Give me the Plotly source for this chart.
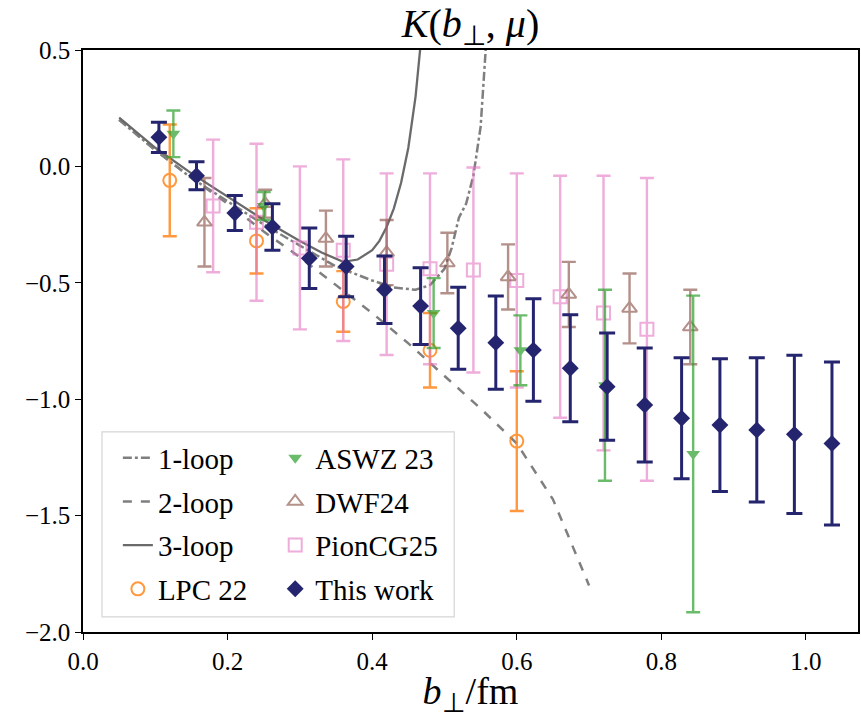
import plotly.graph_objects as go

# ---------------- data ----------------
loop1_x = [0.05, 0.08, 0.10, 0.15, 0.20, 0.25, 0.30, 0.35, 0.40, 0.43, 0.46, 0.48, 0.50, 0.51, 0.52, 0.53, 0.54, 0.55, 0.557, 0.56]
loop1_y = [0.20, 0.12, 0.07, -0.05, -0.15, -0.25, -0.34, -0.43, -0.49, -0.52, -0.53, -0.51, -0.44, -0.35, -0.22, -0.16, -0.04, 0.17, 0.50, 0.65]

loop2_x = [0.05, 0.08, 0.10, 0.15, 0.20, 0.25, 0.30, 0.35, 0.40, 0.45, 0.50, 0.55, 0.60, 0.65, 0.70]
loop2_y = [0.20, 0.12, 0.07, -0.05, -0.16, -0.28, -0.39, -0.51, -0.63, -0.76, -0.90, -1.04, -1.19, -1.43, -1.80]

loop3_x = [0.05, 0.08, 0.10, 0.15, 0.20, 0.25, 0.30, 0.33, 0.36, 0.38, 0.40, 0.41, 0.42, 0.43, 0.44, 0.45, 0.46, 0.465, 0.47]
loop3_y = [0.21, 0.13, 0.08, -0.03, -0.13, -0.23, -0.32, -0.37, -0.41, -0.40, -0.36, -0.32, -0.26, -0.18, -0.07, 0.08, 0.30, 0.45, 0.62]

lpc_x = [0.12, 0.24, 0.36, 0.48, 0.60]
lpc_y = [-0.06, -0.32, -0.58, -0.79, -1.18]
lpc_err = [0.24, 0.14, 0.13, 0.16, 0.30]

aswz_x = [0.125, 0.25, 0.485, 0.605, 0.722, 0.844]
aswz_y = [0.14, -0.17, -0.63, -0.79, -0.94, -1.235]
aswz_err = [0.10, 0.06, 0.15, 0.15, 0.41, 0.68]

dwf_x = [0.168, 0.252, 0.336, 0.42, 0.504, 0.588, 0.672, 0.756, 0.84]
dwf_y = [-0.24, -0.16, -0.31, -0.37, -0.415, -0.475, -0.55, -0.61, -0.69]
dwf_err = [0.19, 0.06, 0.12, 0.14, 0.13, 0.14, 0.14, 0.15, 0.16]

pion_x = [0.18, 0.24, 0.30, 0.36, 0.42, 0.48, 0.54, 0.60, 0.66, 0.72, 0.78]
pion_y = [-0.17, -0.24, -0.35, -0.36, -0.42, -0.44, -0.445, -0.49, -0.56, -0.63, -0.70]
pion_err = [0.285, 0.337, 0.35, 0.39, 0.39, 0.41, 0.44, 0.46, 0.52, 0.59, 0.65]

this_x = [0.105, 0.157, 0.210, 0.262, 0.313, 0.364, 0.417, 0.467, 0.519, 0.571, 0.623, 0.674, 0.725, 0.777, 0.828, 0.881, 0.932, 0.984, 1.036]
this_y = [0.125, -0.04, -0.20, -0.26, -0.395, -0.43, -0.53, -0.60, -0.695, -0.757, -0.789, -0.867, -0.946, -1.025, -1.082, -1.111, -1.132, -1.151, -1.19]
this_err = [0.065, 0.06, 0.075, 0.10, 0.13, 0.13, 0.145, 0.165, 0.176, 0.20, 0.22, 0.23, 0.23, 0.245, 0.26, 0.285, 0.31, 0.34, 0.35]

x_ticks = [0.0, 0.2, 0.4, 0.6, 0.8, 1.0]
y_ticks = [0.5, 0.0, -0.5, -1.0, -1.5, -2.0]
y_tick_text = ["0.5", "0.0", "−0.5", "−1.0", "−1.5", "−2.0"]

SERIF = "Liberation Serif"

fig = go.Figure()

# theory curves
fig.add_trace(go.Scatter(x=loop1_x, y=loop1_y, mode="lines", name="1-loop",
                         line=dict(color="#7f7f7f", width=2.5, dash="dashdot"),
                         legend="legend", legendgroup="a", legendrank=1))
fig.add_trace(go.Scatter(x=loop2_x, y=loop2_y, mode="lines", name="2-loop",
                         line=dict(color="#7f7f7f", width=2.5, dash="dash"),
                         legend="legend", legendgroup="b", legendrank=2))
fig.add_trace(go.Scatter(x=loop3_x, y=loop3_y, mode="lines", name="3-loop",
                         line=dict(color="#6a6a6a", width=2.3),
                         legend="legend", legendgroup="c", legendrank=3))


def ebar(color, arr, thick=2.4, width=7):
    return dict(type="data", array=arr, color=color, thickness=thick, width=width)


fig.add_trace(go.Scatter(x=lpc_x, y=lpc_y, mode="markers", name="LPC 22", opacity=0.8,
                         marker=dict(symbol="circle-open", size=13, color="#ff7f0e", line=dict(width=2)),
                         error_y=ebar("#ff7f0e", lpc_err), legend="legend", legendgroup="d", legendrank=4))

fig.add_trace(go.Scatter(x=pion_x, y=pion_y, mode="markers", name="PionCG25", opacity=0.6,
                         marker=dict(symbol="square-open", size=13, color="#e377c2", line=dict(width=2)),
                         error_y=ebar("#e377c2", pion_err), legend="legend2", legendgroup="g", legendrank=7))

fig.add_trace(go.Scatter(x=dwf_x, y=dwf_y, mode="markers", name="DWF24", opacity=0.65,
                         marker=dict(symbol="triangle-up-open", size=13, color="#8c564b", line=dict(width=2)),
                         error_y=ebar("#8c564b", dwf_err), legend="legend2", legendgroup="f", legendrank=6))

fig.add_trace(go.Scatter(x=aswz_x, y=aswz_y, mode="markers", name="ASWZ 23", opacity=0.7,
                         marker=dict(symbol="triangle-down", size=12, color="#2ca02c"),
                         error_y=ebar("#2ca02c", aswz_err), legend="legend2", legendgroup="e", legendrank=5))

fig.add_trace(go.Scatter(x=this_x, y=this_y, mode="markers", name="This work",
                         marker=dict(symbol="diamond", size=13, color="#25256f"),
                         error_y=ebar("#25256f", this_err, thick=3, width=8),
                         legend="legend2", legendgroup="h", legendrank=8))

# legend frame (single box around both legend columns)
fig.add_shape(type="rect", xref="paper", yref="paper",
              x0=0.0245, x1=0.479, y0=0.026, y1=0.344,
              line=dict(color="#d5d5d5", width=1.2),
              fillcolor="rgba(255,255,255,0.85)", layer="above")

leg_common = dict(font=dict(family=SERIF, size=29, color="black"),
                  bgcolor="rgba(0,0,0,0)", borderwidth=0,
                  traceorder="grouped", tracegroupgap=3,
                  xanchor="left", yanchor="top", itemwidth=30)

fig.update_layout(
    width=861, height=718,
    margin=dict(l=83, r=1, t=50, b=86),
    paper_bgcolor="white", plot_bgcolor="white",
    font=dict(family=SERIF, size=24, color="black"),
    showlegend=True,
    title=dict(text="<i>K</i>(<i>b</i><sub>⊥</sub>, <i>μ</i>)", x=0.5, xref="paper",
               y=1 - 23 / 718, yref="container", xanchor="center", yanchor="middle",
               font=dict(family=SERIF, size=40, color="black")),
    legend=dict(x=0.045, y=0.343, **leg_common),
    legend2=dict(x=0.248, y=0.343, **leg_common),
    xaxis=dict(range=[0.0, 1.072], tickmode="array", tickvals=x_ticks,
               ticktext=[f"{v:.1f}" for v in x_ticks],
               showgrid=False, zeroline=False, showline=True, linecolor="black", linewidth=1.5,
               mirror=True, ticks="outside", ticklen=6, tickwidth=1.3, tickcolor="black",
               tickfont=dict(family=SERIF, size=25, color="black"),
               title=dict(text="<i>b</i><sub>⊥</sub>/fm", standoff=2,
                          font=dict(family=SERIF, size=38, color="black"))),
    yaxis=dict(range=[-2.0, 0.5], tickmode="array", tickvals=y_ticks, ticktext=y_tick_text,
               showgrid=False, zeroline=False, showline=True, linecolor="black", linewidth=1.5,
               mirror=True, ticks="outside", ticklen=6, tickwidth=1.3, tickcolor="black",
               tickfont=dict(family=SERIF, size=25, color="black")),
)

fig.write_html("out.html")
